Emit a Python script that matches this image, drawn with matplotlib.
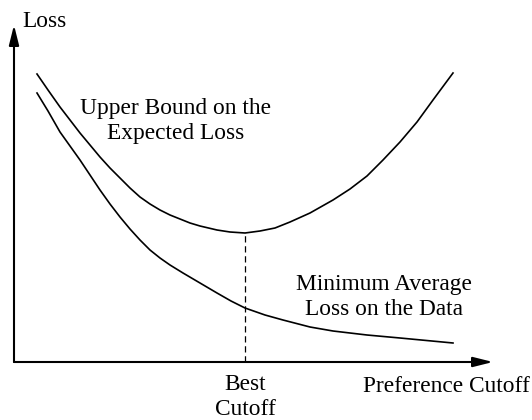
import matplotlib.pyplot as plt

# upper bound on the expected loss (U-shaped)
upper_x = [23, 34, 46, 56, 66, 76, 86, 96, 106, 116, 126, 136, 146, 156, 166, 176,
           186, 203, 216, 231, 246, 261, 276, 296, 319, 336, 353, 369, 386, 403,
           419, 439]
upper_y = [288, 272, 255, 242, 229, 217, 205, 194, 184, 174, 165, 158, 152, 147,
           143, 139, 136, 132, 130, 129, 131, 134, 140, 149, 162, 173, 186, 202,
           220, 240, 262, 289]

# minimum average loss on the data (decreasing)
lower_x = [23, 34, 46, 56, 66, 76, 86, 96, 106, 116, 126, 136, 146, 156, 169, 186,
           203, 217, 231, 251, 269, 296, 319, 353, 386, 439]
lower_y = [269, 251, 230, 216, 202, 187, 172, 158, 145, 133, 122, 112, 104, 97,
           89, 79, 69, 61, 54, 47, 42, 35, 31, 27, 24, 19]

x_end = 479
y_end = 337

plt.rcParams['font.family'] = ['Liberation Serif', 'DejaVu Serif']
fs = 16.8

fig = plt.figure(figsize=(5.32, 4.2), dpi=100)
ax = fig.add_axes([0, 0, 1, 1])
ax.set_xlim(-14, 518)
ax.set_ylim(-58, 362)
ax.axis('off')

ax.plot(upper_x, upper_y, color='black', lw=1.2)
ax.plot(lower_x, lower_y, color='black', lw=1.2)

# best cutoff at the minimum of the upper bound
i_best = upper_y.index(min(upper_y))
best_x = upper_x[i_best]
ax.plot([best_x, best_x], [0, upper_y[i_best]], color='black', lw=0.9,
        dashes=(5, 3))

arrow = dict(arrowstyle='-|>,head_length=0.6,head_width=0.15',
             mutation_scale=20, lw=1.5, color='black', shrinkA=0, shrinkB=0)
ax.annotate('', xy=(x_end, 0), xytext=(0, 0), arrowprops=arrow)
ax.annotate('', xy=(0, y_end), xytext=(0, 0), arrowprops=arrow)

ax.text(8, 335, 'Loss', fontsize=fs, ha='left', va='baseline')
ax.text(162, 241, 'Upper Bound on the\nExpected Loss', fontsize=fs,
        ha='center', va='center', linespacing=1.2)
ax.text(370, 65, 'Minimum Average\nLoss on the Data', fontsize=fs,
        ha='center', va='center', linespacing=1.2)
ax.text(best_x, -35, 'Best\nCutoff', fontsize=fs, ha='center', va='center',
        linespacing=1.2)
ax.text(349, -30, 'Preference Cutoff', fontsize=fs, ha='left', va='baseline')

fig.savefig('out.png', dpi=100)
